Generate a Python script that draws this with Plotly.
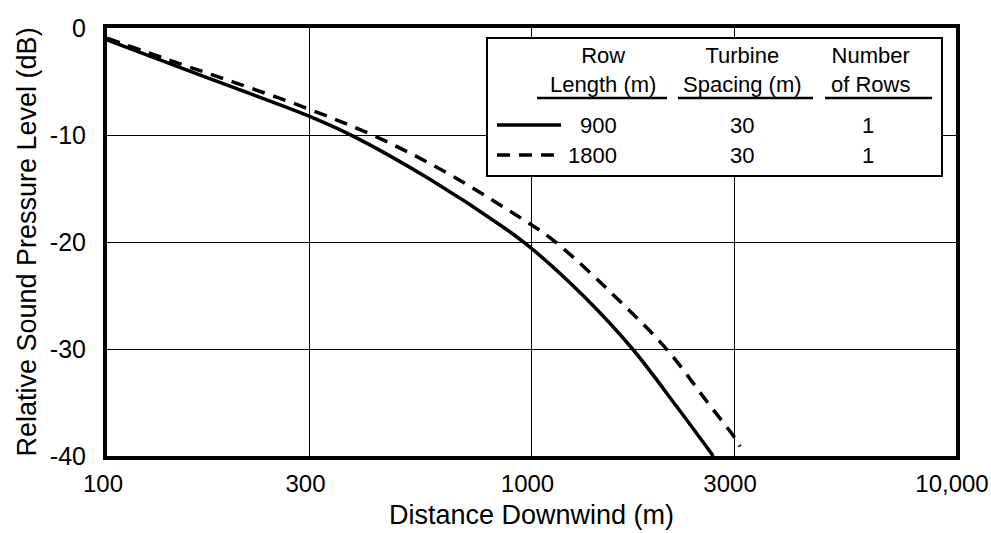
import plotly.graph_objects as go

# ---- data ----
dist_900 = [100, 150, 200, 300, 380, 580, 850, 1000, 1330, 1730, 2200, 2680]
spl_900 = [-1.1, -3.75, -5.6, -8.25, -10.1, -14.2, -18.5, -20.6, -25.1, -30.0, -35.4, -40.0]

dist_1800 = [100, 150, 200, 300, 430, 610, 880, 1130, 1700, 2100, 2600, 3000, 3100]
spl_1800 = [-0.95, -3.4, -5.1, -7.6, -10.15, -13.2, -17.0, -19.9, -26.4, -30.2, -35.0, -38.2, -39.1]

x_tickvals = [100, 300, 1000, 3000, 10000]
x_ticktext = ["100", "300", "1000", "3000", "10,000"]
y_tickvals = [-40, -30, -20, -10, 0]
y_ticktext = ["-40", "-30", "-20", "-10", "0"]

legend_headers = ["Row<br>Length (m)", "Turbine<br>Spacing (m)", "Number<br>of Rows"]
row_lengths = ["900", "1800"]
turbine_spacing = ["30", "30"]
number_of_rows = ["1", "1"]

FONT = "Liberation Sans, Arial, Helvetica, sans-serif"
W, H = 991, 533
L, R, T, B = 107, 35, 28, 77
PW, PH = W - L - R, H - T - B


def px(x):
    return (x - L) / PW


def py(y):
    return (H - B - y) / PH


fig = go.Figure()
fig.add_trace(go.Scatter(x=dist_900, y=spl_900, mode="lines",
                         line=dict(color="black", width=3.5, shape="spline", smoothing=1.0),
                         showlegend=False))
fig.add_trace(go.Scatter(x=dist_1800, y=spl_1800, mode="lines",
                         line=dict(color="black", width=3.5, dash="13px,9px", shape="spline", smoothing=1.0),
                         showlegend=False))

shapes = []
annotations = []

# legend box
shapes.append(dict(type="rect", xref="paper", yref="paper",
                   x0=px(487), x1=px(942), y0=py(176), y1=py(38),
                   line=dict(color="black", width=2), fillcolor="white", layer="above"))

# header texts
for text, cx in zip(legend_headers, [603, 742, 870]):
    annotations.append(dict(xref="paper", yref="paper", x=px(cx), y=py(70), text=text,
                            showarrow=False, xanchor="center", yanchor="middle",
                            font=dict(family=FONT, size=22, color="black")))
# header underlines
for x0, x1 in [(537, 667), (678, 813), (825, 932)]:
    shapes.append(dict(type="line", xref="paper", yref="paper",
                       x0=px(x0), x1=px(x1), y0=py(98), y1=py(98),
                       line=dict(color="black", width=2.5), layer="above"))

row_y = [125, 155]
dashes = ["solid", "13px,9px"]
for i in range(2):
    shapes.append(dict(type="line", xref="paper", yref="paper",
                       x0=px(497), x1=px(561), y0=py(row_y[i]), y1=py(row_y[i]),
                       line=dict(color="black", width=3.5, dash=dashes[i]), layer="above"))
    annotations.append(dict(xref="paper", yref="paper", x=px(619), y=py(row_y[i]), text=row_lengths[i],
                            showarrow=False, xanchor="right", yanchor="middle",
                            font=dict(family=FONT, size=22, color="black")))
    annotations.append(dict(xref="paper", yref="paper", x=px(742), y=py(row_y[i]), text=turbine_spacing[i],
                            showarrow=False, xanchor="center", yanchor="middle",
                            font=dict(family=FONT, size=22, color="black")))
    annotations.append(dict(xref="paper", yref="paper", x=px(868), y=py(row_y[i]), text=number_of_rows[i],
                            showarrow=False, xanchor="center", yanchor="middle",
                            font=dict(family=FONT, size=22, color="black")))

fig.update_layout(
    width=W, height=H,
    margin=dict(l=L, r=R, t=T, b=B, pad=0, autoexpand=False),
    paper_bgcolor="white", plot_bgcolor="white",
    font=dict(family=FONT, color="black"),
    shapes=shapes, annotations=annotations,
    showlegend=False,
)
fig.update_xaxes(type="log", range=[2, 4], tickvals=x_tickvals, ticktext=x_ticktext,
                 automargin=False,
                 showgrid=True, gridcolor="black", gridwidth=1.2,
                 showline=True, linecolor="black", linewidth=4, mirror=True,
                 ticks="", tickfont=dict(family=FONT, size=24, color="black"),
                 ticklabelstandoff=3, ticklabelshift=-4, ticklabeloverflow="allow",
                 title=dict(text="Distance Downwind (m)", font=dict(family=FONT, size=27, color="black"), standoff=10),
                 zeroline=False)
fig.update_yaxes(range=[-40, 0], tickvals=y_tickvals, ticktext=y_ticktext,
                 automargin=False,
                 showgrid=True, gridcolor="black", gridwidth=1.2,
                 showline=True, linecolor="black", linewidth=4, mirror=True,
                 ticks="", tickfont=dict(family=FONT, size=25, color="black"),
                 ticklabelstandoff=12,
                 title=dict(text="Relative Sound Pressure Level (dB)", font=dict(family=FONT, size=27, color="black"), standoff=6),
                 zeroline=False)

fig.write_html("out.html")
